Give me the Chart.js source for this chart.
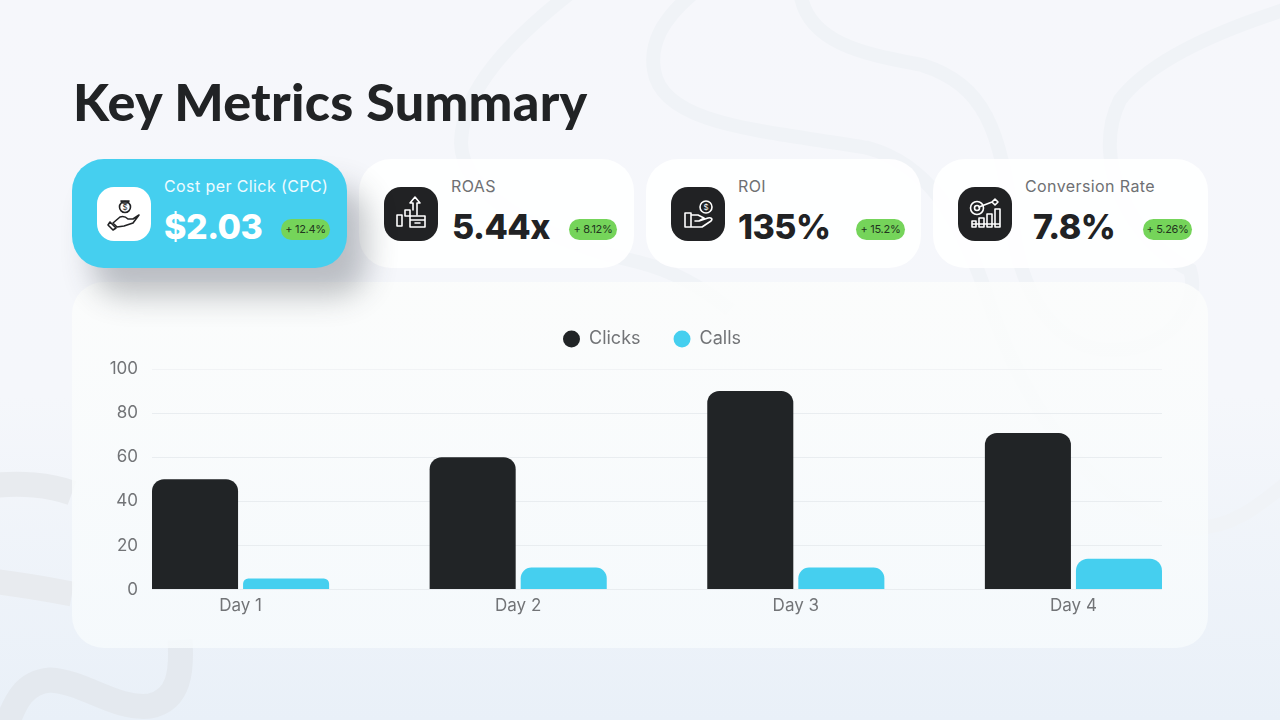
<!DOCTYPE html>
<html>
<head>
<meta charset="utf-8">
<title>Key Metrics Summary</title>
<script src="https://cdn.jsdelivr.net/npm/chart.js@4"></script>
<style>
html,body{margin:0;padding:0;}
body{width:1280px;height:720px;overflow:hidden;position:relative;font-family:Inter,"Noto Sans",sans-serif;
  background:linear-gradient(180deg,#f6f7fb 0%,#f5f7fb 55%,#e9f0f8 100%);}
#bg{position:absolute;left:0;top:0;}
h1{position:absolute;left:73px;top:70px;margin:0;font:900 52px/62px Lato,sans-serif;letter-spacing:.3px;color:#212325;}
.card{position:absolute;top:159px;width:275px;height:109px;border-radius:32px;background:rgba(255,255,255,.9);}
.card.hot{background:#45cfef;box-shadow:20px 28px 30px rgba(50,55,65,.3);z-index:2;}
.icon{position:absolute;left:25px;top:28px;width:54px;height:54px;border-radius:17px;background:#212224;}
.hot .icon{background:#fff;}
.icon svg{position:absolute;left:0;top:0;fill:none;stroke:#fff;stroke-width:1.6;stroke-linejoin:round;stroke-linecap:round;}
.hot .icon svg{stroke:#212224;}
.icon svg text{font-size:8px;stroke:none;fill:#fff;text-anchor:middle;}
.hot .icon svg text{fill:#212224;}
.lbl{position:absolute;top:17px;font-size:16px;line-height:20px;letter-spacing:.4px;color:#6f7073;white-space:nowrap;}
.hot .lbl{color:#eefbff;}
.val{position:absolute;top:46px;font-size:34px;line-height:44px;font-weight:800;letter-spacing:-.5px;color:#212224;white-space:nowrap;}
.hot .val{color:#fff;}
.pill{position:absolute;top:60px;height:21px;border-radius:11px;background:#75d45a;color:#22351e;font-size:11px;line-height:21px;letter-spacing:-.3px;text-align:center;white-space:nowrap;}
#panel{position:absolute;left:72px;top:282px;width:1136px;height:366px;border-radius:32px;
  background:linear-gradient(180deg,rgba(252,253,252,.85),rgba(247,251,253,.82));}
#chartBox{position:absolute;left:96px;top:297px;width:1112px;height:331px;z-index:3;}
</style>
</head>
<body>
<svg id="bg" width="1280" height="720" fill="none">
  <g stroke="#f0f3f7" stroke-width="14">
    <path d="M574 -10C510 40 462 90 461 143C462 200 560 245 638 262C670 270 700 285 730 310"/>
    <path d="M697 -10C660 20 650 45 654 70C662 125 760 130 868 148C930 165 960 220 985 290C1020 400 1090 510 1190 528C1230 530 1260 505 1290 480"/>
    <path d="M800 -10C805 45 870 55 922 65C985 85 1000 130 1012 220C1020 300 1060 352 1115 350C1175 348 1200 300 1190 270C1130 240 1090 160 1120 100C1150 60 1220 30 1290 8"/>
  </g>
  <g stroke="#e8ebef" stroke-width="25">
    <path d="M-10 486C20 482 50 485 72 493"/>
    <path d="M-10 581C25 585 50 590 72 594"/>
  </g>
  <path d="M180 640C182 670 180 700 150 706C115 710 85 682 50 680C25 682 15 700 5 730" stroke="#e4e9ef" stroke-width="25"/>
</svg>

<h1>Key Metrics Summary</h1>

<div class="card hot" style="left:72px">
  <div class="icon"><svg width="54" height="54" viewBox="0 0 54 54">
    <circle cx="28" cy="20" r="5.5"/><path d="M24 14h8l-2 2h-4zM16 36l7-6c3-1 6 0 8 2h5l6-4-6 8-9 3-7 1z"/><path d="M13 35l6 6-3 2-5-5z"/>
    <text x="28" y="23">$</text>
  </svg></div>
  <div class="lbl" style="left:92px">Cost per Click (CPC)</div>
  <div class="val" style="left:92px">$2.03</div>
  <div class="pill" style="left:209px;width:49px">+ 12.4%</div>
</div>
<div class="card" style="left:359px">
  <div class="icon"><svg width="54" height="54" viewBox="0 0 54 54">
    <path d="M13 28h5v11h-5zM21 23h5v6h-5zM29 23V16h-3l5-6 5 6h-3v12"/><path d="M26 29h15v11H26zM26 33h15M31 36h5"/>
  </svg></div>
  <div class="lbl" style="left:92px">ROAS</div>
  <div class="val" style="left:93px">5.44x</div>
  <div class="pill" style="left:210px;width:48px">+ 8.12%</div>
</div>
<div class="card" style="left:646px">
  <div class="icon"><svg width="54" height="54" viewBox="0 0 54 54">
    <circle cx="35" cy="20" r="6"/><path d="M14 26h6v14h-6zM20 28h7l6 3-5 3h-4M28 34l9-3c3-1 5 1 3 3l-9 6H20"/>
    <text x="35" y="23">$</text>
  </svg></div>
  <div class="lbl" style="left:92px">ROI</div>
  <div class="val" style="left:92px">135%</div>
  <div class="pill" style="left:210px;width:49px">+ 15.2%</div>
</div>
<div class="card" style="left:933px">
  <div class="icon"><svg width="54" height="54" viewBox="0 0 54 54">
    <circle cx="19" cy="21" r="6.5"/><circle cx="19" cy="21" r="2.5"/><path d="M21 20l13-5M34 15l3-3 3 3-3 3zM14 34h4v6h-4zM21 31h5v9h-5zM29 27h5v13h-5zM37 22h5v18h-5zM14 37h28"/>
  </svg></div>
  <div class="lbl" style="left:92px">Conversion Rate</div>
  <div class="val" style="left:100px">7.8%</div>
  <div class="pill" style="left:210px;width:49px">+ 5.26%</div>
</div>

<div id="panel"></div>
<div id="chartBox"><canvas id="metrics-chart"></canvas></div>

<script>
const days = ["Day 1", "Day 2", "Day 3", "Day 4"];
const clicks = [50, 60, 90, 71];
const calls = [5, 10, 10, 14];
const yTicks = [0, 20, 40, 60, 80, 100];

const grey = '#727477';
const font = {family: 'Inter', size: 17};

// the reference has its first and last group flush with the plot edges,
// a category scale cannot do that so x is linear and labelled from days
const edge = 0.319;

// legend sits a bit right of the plot centre, with a bigger gap under it
const legendNudge = {
    id: 'legendNudge',
    beforeInit(chart) {
        const fit = chart.legend.fit;
        chart.legend.fit = function () {
            fit.call(this);
            this.height += 11;
        };
    },
    afterLayout(chart) {
        chart.legend.left += 23;
        chart.legend.right += 23;
    }
};

let metricsChart = new Chart(document.getElementById('metrics-chart'), {
    type: 'bar',
    plugins: [legendNudge],
    data: {
        datasets: [{
            label: 'Clicks',
            data: clicks.map((v, i) => ({x: i, y: v})),
            backgroundColor: '#212426'
        }, {
            label: 'Calls',
            data: calls.map((v, i) => ({x: i, y: v})),
            backgroundColor: '#45cfef'
        }]
    },
    options: {
        responsive: true,
        maintainAspectRatio: false,
        animation: {duration: 0},
        categoryPercentage: 0.656,
        barPercentage: 0.945,
        borderRadius: {topLeft: 12, topRight: 12, bottomLeft: 0, bottomRight: 0},
        borderSkipped: false,
        layout: {padding: {right: 46, bottom: 6}},
        scales: {
            x: {
                type: 'linear',
                offset: false,
                bounds: 'data',
                min: -edge,
                max: days.length - 1 + edge,
                afterBuildTicks: axis => { axis.ticks = days.map((d, i) => ({value: i})); },
                ticks: {
                    color: grey,
                    font: font,
                    padding: 6,
                    maxRotation: 0,
                    autoSkip: false,
                    callback: value => days[value]
                },
                grid: {display: false, drawTicks: false},
                border: {display: false}
            },
            y: {
                min: 0,
                max: 100,
                afterBuildTicks: axis => { axis.ticks = yTicks.map(v => ({value: v})); },
                afterFit: axis => { axis.width = 56; },
                ticks: {color: grey, font: font, padding: 14},
                grid: {
                    color: ctx => ctx.tick.value === 100 ? '#f1f3f5' : '#e9edf0',
                    lineWidth: 1,
                    drawTicks: false
                },
                border: {display: false}
            }
        },
        plugins: {
            legend: {
                position: 'top',
                labels: {
                    usePointStyle: true,
                    pointStyle: 'circle',
                    boxWidth: 17,
                    boxHeight: 12,
                    color: grey,
                    font: {family: 'Inter', size: 18},
                    padding: 33
                }
            },
            tooltip: {enabled: false}
        }
    }
});
</script>
</body>
</html>
